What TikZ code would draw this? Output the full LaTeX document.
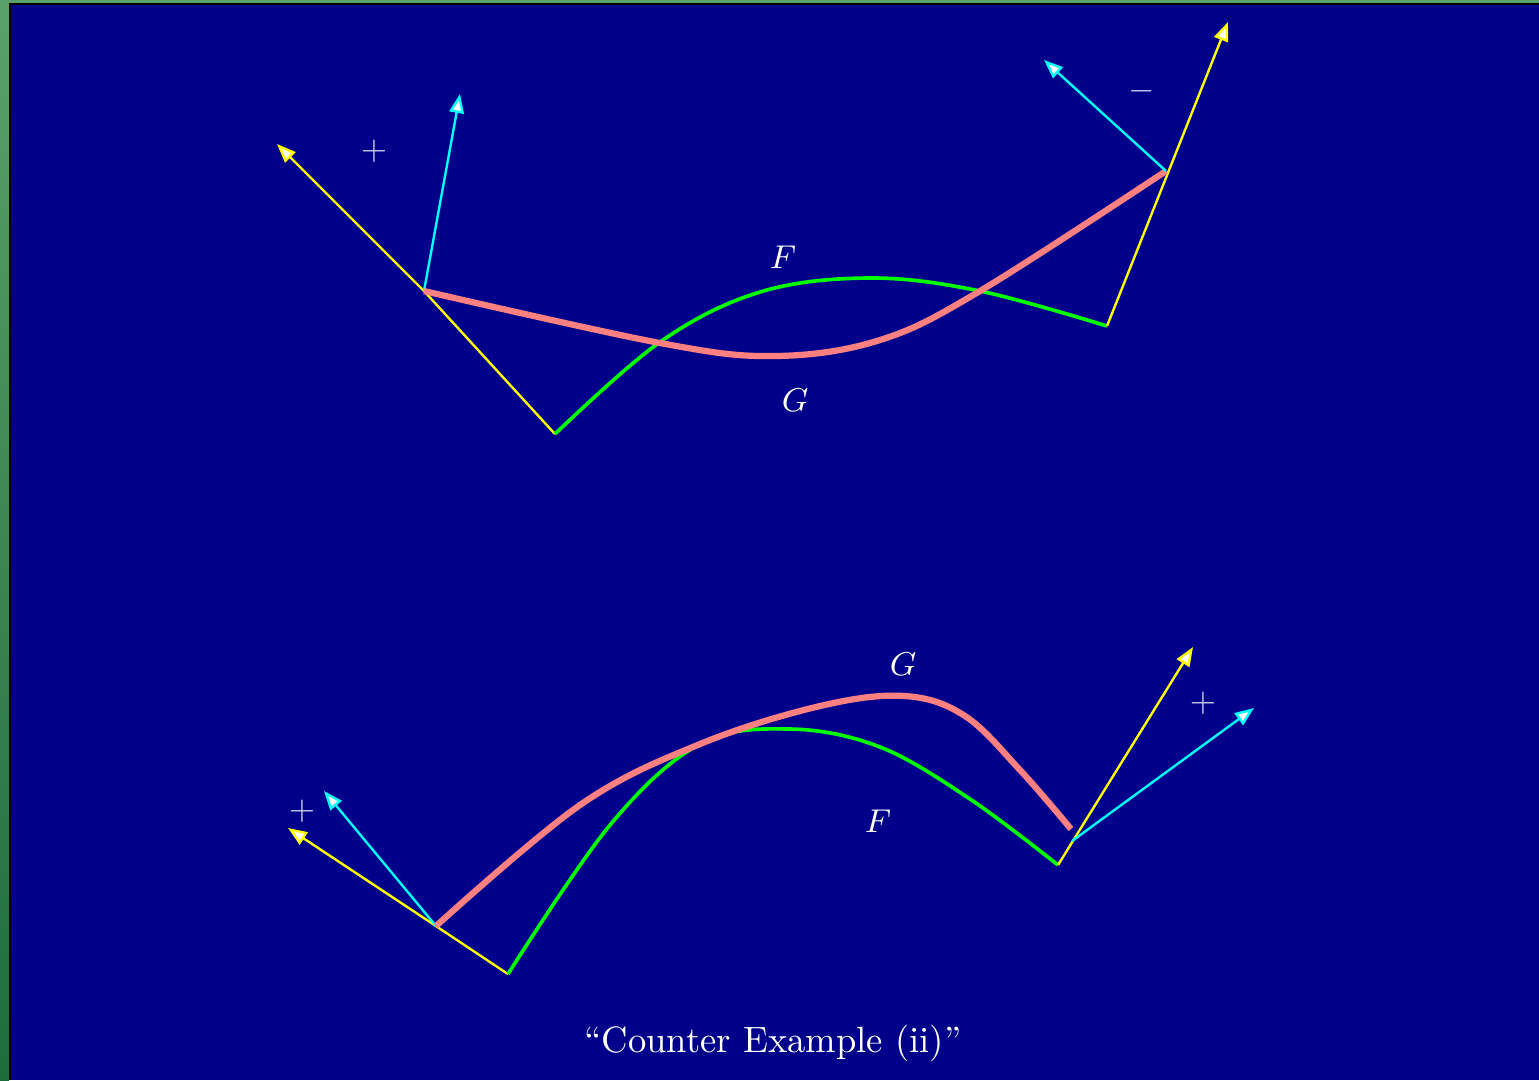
\documentclass[tikz,border=0pt]{standalone}
\usetikzlibrary{arrows.meta}
\definecolor{bgblue}{RGB}{0,0,139}
\definecolor{stripA}{RGB}{90,160,106}
\definecolor{stripB}{RGB}{30,108,60}
\definecolor{pinkc}{RGB}{255,128,128}
\definecolor{greenc}{RGB}{0,255,0}
\definecolor{cyanc}{RGB}{0,255,255}
\definecolor{yellowc}{RGB}{255,255,0}
\definecolor{labc}{RGB}{200,200,235}
\tikzset{
  vecarrow/.style={line width=0.65pt, -{Triangle[length=5.2pt,width=4.0pt,fill=white]}},
  yvec/.style={vecarrow, draw=yellowc},
  cvec/.style={vecarrow, draw=cyanc},
  yline/.style={line width=0.65pt, draw=yellowc},
  pinkcurve/.style={line width=1.7pt, draw=pinkc},
  greencurve/.style={line width=1.0pt, draw=greenc},
  lbl/.style={text=white, font=\fontsize{9}{10}\selectfont},
  sgn/.style={text=labc, font=\fontsize{9}{10}\selectfont},
}
\begin{document}
\begin{tikzpicture}[x=0.2732pt, y=-0.2732pt]
\useasboundingbox (0,0) rectangle (1539,1080);
% frame
\shade[top color=stripA, bottom color=stripB] (0,0) rectangle (9,1080);
\fill[stripA] (0,0) rectangle (1539,3);
\fill[black] (9,3) rectangle (1539,1080);
\fill[bgblue] (11,5) rectangle (1539,1080);

% ---------- top panel ----------
\coordinate (tA) at (424,291);   % pink start
\coordinate (tB) at (1166,171);  % pink end
\coordinate (tC) at (555,434);   % green start
\coordinate (tD) at (1107,326);  % green end
\coordinate (tY1) at (277,144);
\coordinate (tC1) at (460,94);
\coordinate (tC2) at (1044,60);
\coordinate (tY2) at (1228,22);

\draw[yline] (tC) -- (tA);
\draw[yvec] (tA) -- (tY1);
\draw[cvec] (tA) -- (tC1);
\draw[greencurve] plot[smooth, tension=0.6] coordinates {(tC) (660,342) (760,292) (870,278) (980,291) (tD)};
\draw[yvec] (tD) -- (tY2);
\draw[pinkcurve] plot[smooth, tension=0.6] coordinates {(tA) (660,343) (775,356) (880,340) (980,291) (tB)};
\draw[cvec] (tB) -- (tC2);

\node[sgn] (tplus) at (374,151) {$+$};
\node[sgn] (tminus) at (1142,91) {$-$};
\node[lbl] (tF) at (783,257) {$F$};
\node[lbl] (tG) at (795,400) {$G$};

% ---------- bottom panel ----------
\coordinate (bA) at (436,926);   % pink start
\coordinate (bB) at (1071,829);  % pink end
\coordinate (bC) at (508,974);   % green start
\coordinate (bD) at (1058,865);  % green end
\coordinate (bY1) at (288,828);
\coordinate (bC1) at (324,791);
\coordinate (bY2) at (1193,647);
\coordinate (bCb) at (1072,841);
\coordinate (bC2) at (1254,708);

\draw[yline] (bC) -- (bA);
\draw[yvec] (bA) -- (bY1);
\draw[cvec] (bA) -- (bC1);
\draw[greencurve] plot[smooth, tension=0.6] coordinates {(bC) (610,825) (700,744) (790,729) (880,747) (970,799) (bD)};
\draw[yvec] (bD) -- (bY2);
\draw[pinkcurve] plot[smooth, tension=0.6] coordinates {(bA) (580,805) (700,744) (820,706) (905,696) (965,716) (1020,770) (bB)};
\draw[cvec] (bCb) -- (bC2);

\node[sgn] (bplus1) at (302,811) {$+$};
\node[sgn] (bplus2) at (1203,703) {$+$};
\node[lbl] (bG) at (903,664) {$G$};
\node[lbl] (bF) at (878,821) {$F$};

% title
\node[text=white, font=\fontsize{10}{12}\selectfont] (title) at (773,1043) {``Counter Example (ii)''};
\end{tikzpicture}
\end{document}
